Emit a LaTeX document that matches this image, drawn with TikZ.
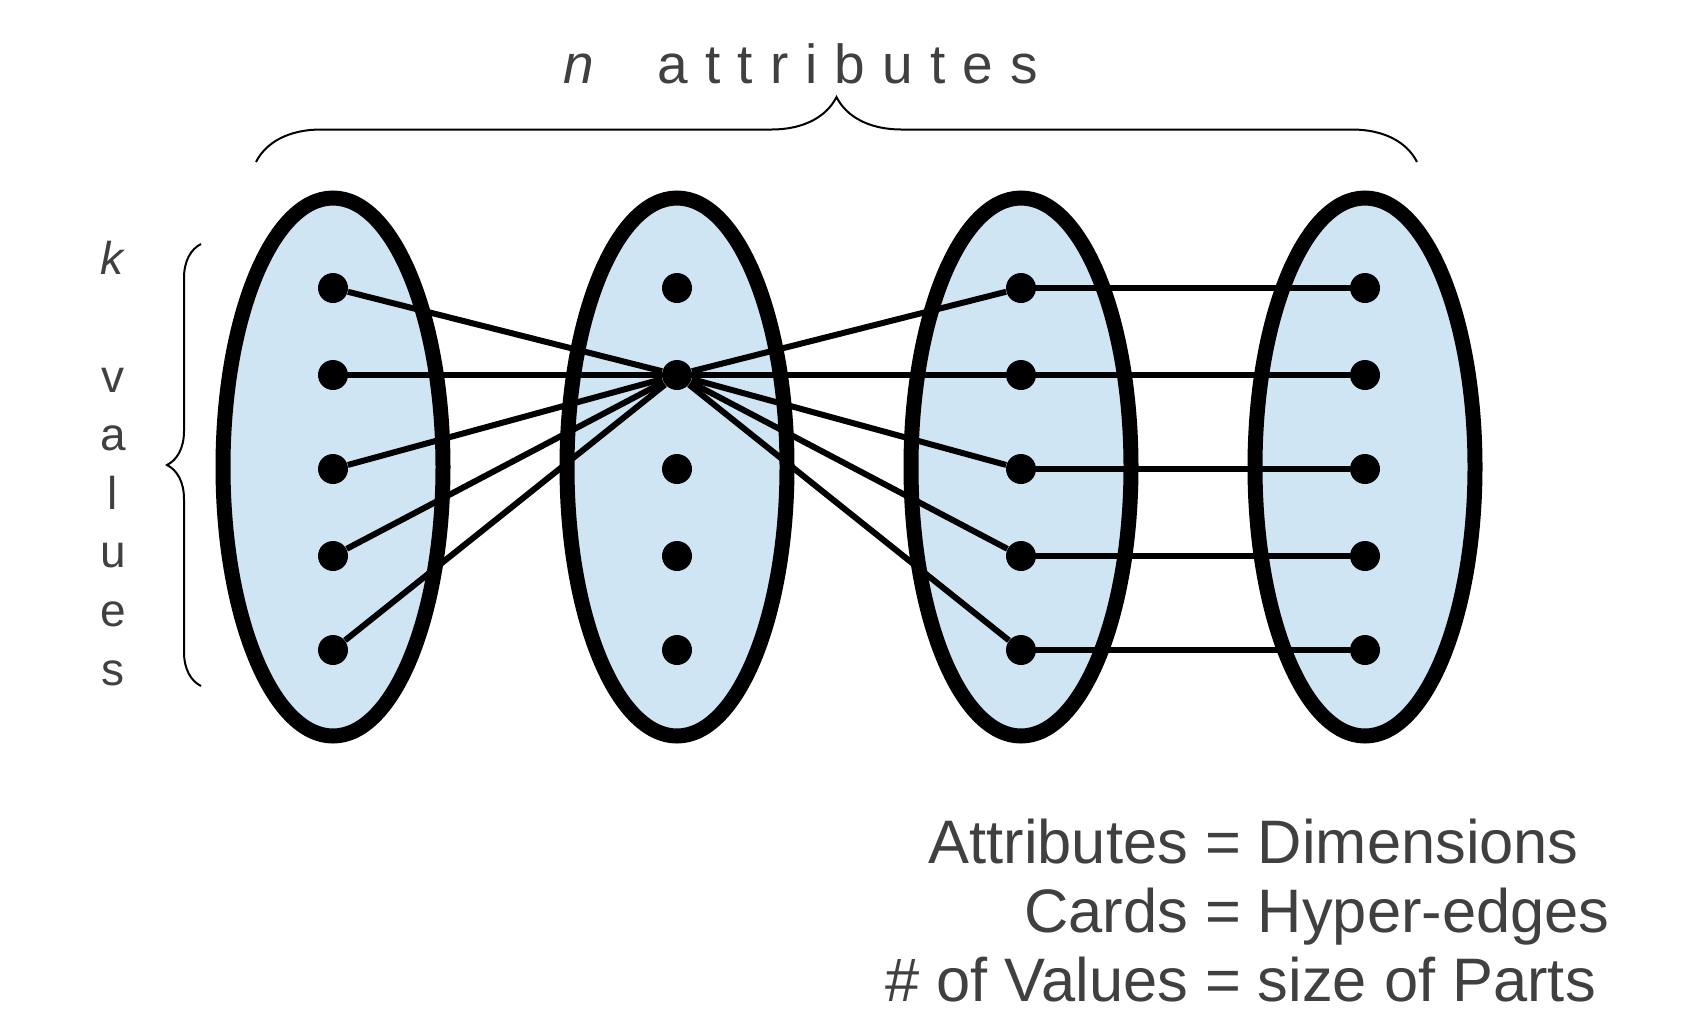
\documentclass[tikz,border=0pt]{standalone}
\usepackage{fontspec}
\setmainfont{Liberation Sans}
\newfontfamily\spacedfont[LetterSpace=31]{Liberation Sans}
\usetikzlibrary{shapes.geometric,decorations.pathreplacing}
\definecolor{ink}{RGB}{64,64,64}
\definecolor{partfill}{RGB}{207,229,243}
\tikzset{
  attrpart/.style={ellipse,draw=black,fill=partfill,line width=7.5pt,minimum width=110pt,minimum height=269pt,inner sep=0pt},
  valdot/.style={circle,fill=black,minimum size=15pt,inner sep=0pt},
  link/.style={line width=3pt},
  brc/.style={decorate,decoration={brace,amplitude=#1},line width=1pt},
  lbl/.style={text=ink,inner sep=0pt},
}

\begin{document}
\begin{tikzpicture}[x=0.5pt,y=-0.5pt]
\useasboundingbox (0,0) rectangle (1688,1008);
% the n attributes, each with k values
\foreach \i in {1,...,4} {
  \node[attrpart] (p\i) at ({333+344*(\i-1)},467) {};
  \foreach \y [count=\j] in {288,375,469,556,650}
    \node[valdot] (v\i\j) at ({333+344*(\i-1)},\y) {};
}
% cards
\foreach \j in {1,...,5} {
  \draw[link] (v22) -- (v1\j);
  \draw[link] (v22) -- (v3\j);
  \draw[link] (v3\j) -- (v4\j);
}
% braces and labels
\draw[brc=32.5pt] (256,162) -- (1417,162);
\draw[brc=17pt] (201,686) -- (201,244);
\node[lbl,anchor=base west,font=\spacedfont\fontsize{27.5}{33}\selectfont] (ntitle) at (563,83) {\itshape n\hspace{32pt}\upshape attributes};
\node[lbl,anchor=base,align=center,font=\fontsize{23}{29.3}\selectfont] (kvals) at (113,685) {\textit{k}\\[29.3pt]v\\a\\l\\u\\e\\s};
\node[lbl,anchor=base,font=\fontsize{30.7}{35}\selectfont] (eq1) at (1223,863) {\llap{Attributes }=\rlap{ Dimensions}};
\node[lbl,anchor=base,font=\fontsize{30.7}{35}\selectfont] (eq2) at (1223,932) {\llap{Cards }=\rlap{ Hyper-edges}};
\node[lbl,anchor=base,font=\fontsize{30.7}{35}\selectfont] (eq3) at (1223,1001) {\llap{\# of Values }=\rlap{ size of Parts}};
\end{tikzpicture}
\end{document}
